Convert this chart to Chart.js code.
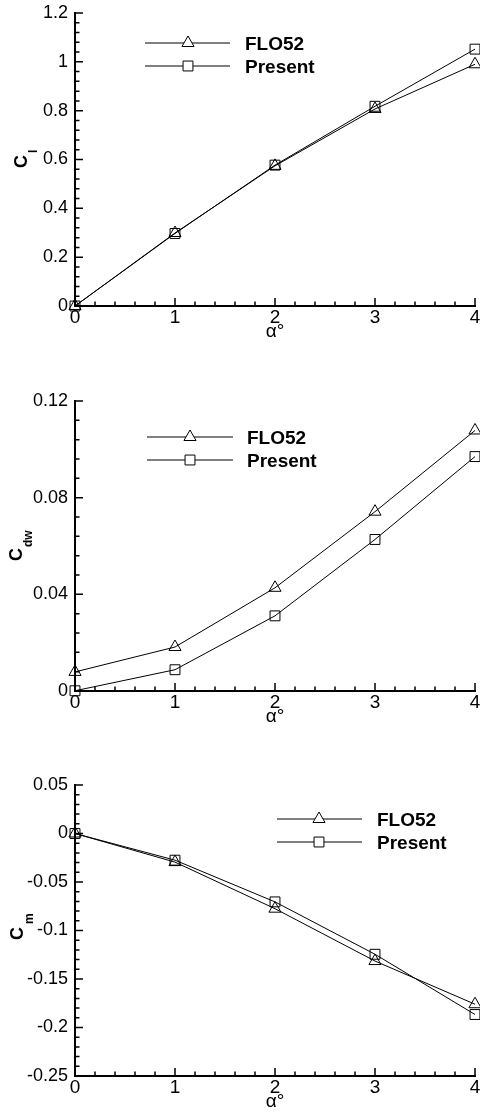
<!DOCTYPE html>
<html>
<head>
<meta charset="utf-8">
<script src="https://cdn.jsdelivr.net/npm/chart.js@4.4.0/dist/chart.umd.min.js"></script>
<style>
html, body { margin: 0; padding: 0; background: #fff; width: 480px; height: 1116px; overflow: hidden; }
.box { position: absolute; left: 0; width: 480px; }
</style>
</head>
<body>
<div class="box" style="top:0;height:345px"><canvas id="clChart"></canvas></div>
<div class="box" style="top:380px;height:350px"><canvas id="cdwChart"></canvas></div>
<div class="box" style="top:760px;height:355px"><canvas id="cmChart"></canvas></div>
<script>
// angle of attack (deg)
const alpha = [0, 1, 2, 3, 4];
const alphaTicks = [0, 1, 2, 3, 4];

// lift coefficient
const clFlo52 = [0, 0.299, 0.574, 0.807, 0.99];
const clPresent = [0, 0.297, 0.577, 0.818, 1.052];
const clTicks = [0, 0.2, 0.4, 0.6, 0.8, 1, 1.2];

// wave drag coefficient
const cdwFlo52 = [0.0079, 0.0182, 0.0427, 0.0742, 0.1078];
const cdwPresent = [0.0001, 0.0088, 0.0311, 0.0627, 0.0970];
const cdwTicks = [0, 0.04, 0.08, 0.12];

// moment coefficient
const cmFlo52 = [0, -0.0295, -0.0775, -0.1315, -0.176];
const cmPresent = [0, -0.0275, -0.0705, -0.1245, -0.1866];
const cmTicks = [-0.25, -0.2, -0.15, -0.1, -0.05, 0, 0.05];

const seriesNames = ['FLO52', 'Present'];
const FONT = '"Liberation Sans", Arial, sans-serif';

// inward major + minor tick marks along the left and bottom axes
const axisTicks = {
  id: 'axisTicks',
  afterDatasetsDraw(chart, args, opts) {
    const ctx = chart.ctx;
    const xs = chart.scales.x, ys = chart.scales.y;
    const { left, bottom } = chart.chartArea;
    ctx.save();
    ctx.strokeStyle = '#000';
    ctx.lineWidth = 1.5;
    ctx.beginPath();
    const mark = (scale, step, major, cb) => {
      const n = Math.round((scale.max - scale.min) / step);
      for (let i = 0; i <= n; i++) {
        const v = scale.min + i * step;
        const r = v / major;
        const isMajor = Math.abs(r - Math.round(r)) < 1e-6;
        cb(scale.getPixelForValue(v), isMajor ? 8 : 4.5);
      }
    };
    mark(xs, opts.xMinor, opts.xMajor, (px, len) => { ctx.moveTo(px, bottom); ctx.lineTo(px, bottom - len); });
    mark(ys, opts.yMinor, opts.yMajor, (py, len) => { ctx.moveTo(left, py); ctx.lineTo(left + len, py); });
    ctx.stroke();
    ctx.restore();
  }
};

// rotated y title: bold C with a subscript
const yTitle = {
  id: 'yTitle',
  afterDraw(chart, args, opts) {
    const ctx = chart.ctx;
    ctx.save();
    ctx.translate(opts.x, opts.y);
    ctx.rotate(-Math.PI / 2);
    ctx.fillStyle = '#000';
    ctx.textBaseline = 'alphabetic';
    ctx.textAlign = 'left';
    ctx.font = 'bold 18px ' + FONT;
    ctx.fillText('C', 0, 0);
    const w = ctx.measureText('C').width;
    ctx.font = 'bold 12px ' + FONT;
    ctx.fillText(opts.sub, w + opts.gap, opts.drop);
    ctx.restore();
  }
};

// legend: line with symbol in the middle, bold name to the right
const lineLegend = {
  id: 'lineLegend',
  afterDraw(chart, args, opts) {
    const ctx = chart.ctx;
    ctx.save();
    chart.data.datasets.forEach((ds, i) => {
      const y = opts.y[i];
      ctx.strokeStyle = '#000';
      ctx.lineWidth = 1;
      ctx.beginPath();
      ctx.moveTo(opts.x1, y);
      ctx.lineTo(opts.x2, y);
      ctx.stroke();
      const r = 7, m = opts.mx;
      ctx.beginPath();
      if (ds.pointStyle === 'triangle') {
        ctx.moveTo(m, y - r);
        ctx.lineTo(m + r * 0.866, y + r / 2);
        ctx.lineTo(m - r * 0.866, y + r / 2);
        ctx.closePath();
      } else {
        const h = r * Math.SQRT1_2;
        ctx.rect(m - h, y - h, 2 * h, 2 * h);
      }
      ctx.fillStyle = '#fff';
      ctx.fill();
      ctx.stroke();
      ctx.fillStyle = '#000';
      ctx.font = 'bold 19px ' + FONT;
      ctx.textBaseline = 'alphabetic';
      ctx.fillText(ds.label, opts.tx, y + 6.8);
    });
    ctx.restore();
  }
};

function series(label, ys, style) {
  return {
    label: label,
    data: alpha.map((a, i) => ({ x: a, y: ys[i] })),
    borderColor: '#000',
    borderWidth: 1,
    pointStyle: style,
    pointRadius: 7,
    pointBorderWidth: 1,
    pointBorderColor: '#000',
    pointBackgroundColor: 'rgba(0,0,0,0)',
    tension: 0,
    fill: false,
    clip: false
  };
}

function makeChart(id, flo, present, yTicks, topPad, yMinor, title, legend) {
  const yMajor = yTicks[1] - yTicks[0];
  return new Chart(document.getElementById(id), {
    type: 'line',
    data: {
      datasets: [series(seriesNames[0], flo, 'triangle'), series(seriesNames[1], present, 'rect')]
    },
    options: {
      responsive: true,
      maintainAspectRatio: false,
      animation: false,
      // no extra room for point radius, the plot runs right up to x=475
      layout: { autoPadding: false, padding: { top: topPad, right: 5, left: 0, bottom: 0 } },
      plugins: {
        legend: { display: false },
        tooltip: { enabled: false },
        axisTicks: { xMinor: 0.2, xMajor: 1, yMinor: yMinor, yMajor: yMajor },
        yTitle: title,
        lineLegend: legend
      },
      scales: {
        x: {
          type: 'linear',
          min: alphaTicks[0],
          max: alphaTicks[alphaTicks.length - 1],
          afterBuildTicks: s => { s.ticks = alphaTicks.map(v => ({ value: v })); },
          afterFit: s => { s.height = 39; s.paddingLeft = 0; s.paddingRight = 0; },
          grid: { display: false, drawTicks: false },
          border: { display: true, color: '#000', width: 2 },
          ticks: { color: '#000', font: { family: FONT, size: 19 }, padding: 0, maxRotation: 0, autoSkip: false,
            callback: v => String(+v.toFixed(3)) },
          title: { display: true, text: 'α°', color: '#000', font: { family: FONT, size: 19 }, padding: { top: 0, bottom: 2 } }
        },
        y: {
          type: 'linear',
          min: Math.min(...yTicks),
          max: Math.max(...yTicks),
          afterBuildTicks: s => { s.ticks = yTicks.map(v => ({ value: v })); },
          afterFit: s => { s.width = 75; s.paddingTop = 0; s.paddingBottom = 0; },
          grid: { display: false, drawTicks: false },
          border: { display: true, color: '#000', width: 2 },
          ticks: { color: '#000', font: { family: FONT, size: 18 }, padding: 7, autoSkip: false,
            callback: v => String(+v.toFixed(3)) }
        }
      }
    },
    plugins: [axisTicks, yTitle, lineLegend]
  });
}

makeChart('clChart', clFlo52, clPresent, clTicks, 13, 0.04,
  { x: 27, y: 168, sub: 'l', gap: 2, drop: 10 },
  { x1: 145, x2: 230, mx: 188, tx: 245, y: [43, 66] });

makeChart('cdwChart', cdwFlo52, cdwPresent, cdwTicks, 21, 0.008,
  { x: 22, y: 181, sub: 'dw', gap: 1, drop: 10 },
  { x1: 147, x2: 233, mx: 190, tx: 247, y: [57, 80] });

makeChart('cmChart', cmFlo52, cmPresent, cmTicks, 25, 0.01,
  { x: 23, y: 180, sub: 'm', gap: 3, drop: 10 },
  { x1: 277, x2: 362, mx: 319, tx: 377, y: [59, 82] });
</script>
</body>
</html>
